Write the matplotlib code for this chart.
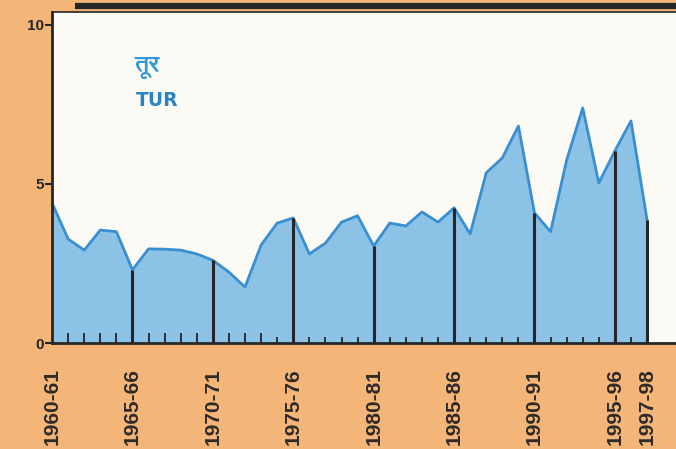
import matplotlib
matplotlib.use('Agg')
import matplotlib.pyplot as plt
from matplotlib import font_manager
import numpy as np

# area of tur (arhar)
years = list(range(1960, 1998))
values = [4.4, 3.27, 2.92, 3.55, 3.5, 2.3, 2.96, 2.95, 2.92, 2.8,
          2.6, 2.23, 1.76, 3.08, 3.77, 3.93, 2.8, 3.14, 3.8, 4.0,
          3.05, 3.77, 3.68, 4.12, 3.8, 4.25, 3.43, 5.35, 5.82, 6.82,
          4.09, 3.5, 5.75, 7.39, 5.03, 6.04, 6.98, 3.87]

label_years = [1960, 1965, 1970, 1975, 1980, 1985, 1990, 1995, 1997]
tick_labels = ['1960-61', '1965-66', '1970-71', '1975-76', '1980-81',
               '1985-86', '1990-91', '1995-96', '1997-98']
bar_years = [1965, 1970, 1975, 1980, 1985, 1990, 1995, 1997]

orange = '#f4b578'
fill_c = '#8cc2e6'
line_c = '#3a8fd0'
dark = '#262626'

# FreeSans draws the Devanagari vowel sign in place without shaping
installed = set(f.name for f in font_manager.fontManager.ttflist)
deva = ['FreeSans', 'DejaVu Sans'] if 'FreeSans' in installed else ['DejaVu Sans']

fig = plt.figure(figsize=(6.76, 4.49), dpi=100, facecolor=orange)
ax = fig.add_axes([0.077, 0.236, 0.923, 0.737])
ax.set_facecolor('#fcfaf4')

ax.fill_between(years, values, 0, color=fill_c, lw=0)
ax.plot(years, values, color=line_c, lw=2)

# black lines up to the curve every five years
v = dict(zip(years, values))
ax.vlines(bar_years, 0, [v[y] for y in bar_years], color=dark, lw=2.2)

ax.set_xlim(1960, 1998.8)
ax.set_ylim(0, 10.4)

ax.set_yticks([0, 5, 10])
ax.set_yticklabels(['0', '5', '10'], fontsize=11, fontweight='bold',
                   color=dark, family='Liberation Sans')
ax.tick_params(axis='y', length=5, width=1.5, color=dark, pad=1)

ax.set_xticks(label_years)
ax.set_xticklabels(tick_labels, rotation=90, fontsize=15, fontweight='bold',
                   color='#2e2a26', family='Liberation Sans', va='top')
ax.tick_params(axis='x', length=0, pad=18)
ax.set_xticks(years, minor=True)
ax.tick_params(axis='x', which='minor', direction='in', length=7,
               width=1.3, color=dark)
# the later year ticks are faint in the original
for yr, t in zip(years, ax.xaxis.get_minor_ticks()):
    if yr > 1970:
        t.tick1line.set_color('#4f6f86')
        t.tick1line.set_markersize(4)

for s in ['left', 'bottom']:
    ax.spines[s].set_color(dark)
    ax.spines[s].set_linewidth(2)
ax.spines['right'].set_visible(False)
ax.spines['top'].set_color(dark)
ax.spines['top'].set_linewidth(1.2)
ax.plot([1961.45, 1998.8], [10.58, 10.58], color=dark, lw=4.5,
        clip_on=False, solid_capstyle='butt')

ax.text(1965.1, 8.52, 'तूर', fontsize=17, color='#2f9ad6', family=deva,
        fontweight='bold', ha='left', va='baseline')
ax.text(1965.22, 7.45, 'TUR', fontsize=13.5, color='#2a84bf',
        family='DejaVu Sans', fontweight='bold', ha='left', va='baseline')

fig.savefig('out.png', dpi=100, facecolor=orange)
